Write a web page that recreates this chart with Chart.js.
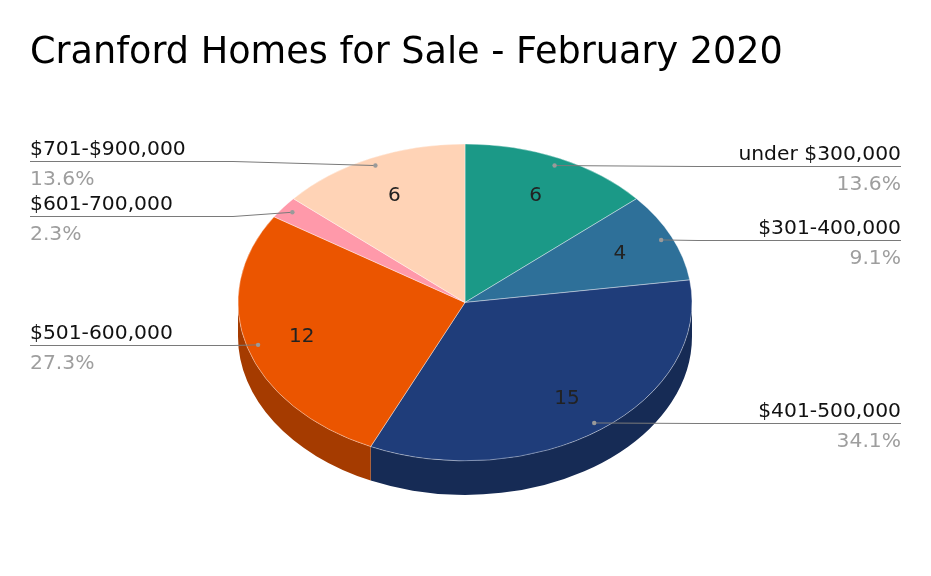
<!DOCTYPE html>
<html><head><meta charset="utf-8">
<script src="https://cdn.jsdelivr.net/npm/chart.js@4.4.1/dist/chart.umd.min.js"></script>
<style>html,body{margin:0;padding:0;background:#fff}#wrap{width:931px;height:576px;position:relative}</style>
</head><body><div id="wrap"><canvas id="c"></canvas></div>
<script>
const chartTitle = 'Cranford Homes for Sale - February 2020';
const categories = ['under $300,000', '$301-400,000', '$401-500,000', '$501-600,000', '$601-700,000', '$701-$900,000'];
const homeCounts = [6, 4, 15, 12, 1, 6];
const sliceColors = ['#1b9987', '#2e7099', '#1f3d7a', '#eb5500', '#ff99aa', '#ffd3b6'];

const FONT = "'DejaVu Sans', Verdana, sans-serif";
const TILT = 0.698;      // vertical squash of the pie
const DEPTH = 34;        // wall height in px
const PIE_RADIUS = 227;

function shade(hex, f) {
  const n = parseInt(hex.slice(1), 16);
  const r = Math.round(((n >> 16) & 255) * f), g = Math.round(((n >> 8) & 255) * f), b = Math.round((n & 255) * f);
  return `rgb(${r},${g},${b})`;
}

const pie3d = {
  id: 'pie3d',
  beforeDatasetsDraw(chart) {
    const ctx = chart.ctx;
    const meta = chart.getDatasetMeta(0);
    const a0 = meta.data[0];
    const cx = a0.x, cy = a0.y, r = a0.outerRadius;
    ctx.save();
    ctx.translate(0, cy); ctx.scale(1, TILT); ctx.translate(0, -cy);
    meta.data.forEach((arc, i) => {
      const a = Math.max(arc.startAngle, 0), b = Math.min(arc.endAngle, Math.PI);
      if (a >= b) return;
      ctx.beginPath();
      ctx.arc(cx, cy, r, a, b);
      ctx.arc(cx, cy + DEPTH / TILT, r, b, a, true);
      ctx.closePath();
      ctx.fillStyle = shade(sliceColors[i], 0.7);
      ctx.fill();
    });
  },
  afterDatasetsDraw(chart) {
    const ctx = chart.ctx;
    ctx.restore();
    const meta = chart.getDatasetMeta(0);
    const a0 = meta.data[0];
    const cx = a0.x, cy = a0.y, r = a0.outerRadius;
    const total = homeCounts.reduce((s, v) => s + v, 0);
    const pt = (ang, f) => ({ x: cx + f * r * Math.cos(ang), y: cy + f * r * TILT * Math.sin(ang) });
    const items = [];
    meta.data.forEach((arc, i) => {
      const mid = (arc.startAngle + arc.endAngle) / 2;
      const v = homeCounts[i];
      if (v / total >= 0.05) {
        const p = pt(mid, 0.75);
        ctx.font = `20px ${FONT}`;
        ctx.fillStyle = '#222';
        ctx.textAlign = 'center'; ctx.textBaseline = 'middle';
        ctx.fillText(String(v), p.x, p.y + 1);
      }
      const d = pt(mid, 0.95);
      items.push({ i, d, side: Math.cos(mid) >= 0 ? 'right' : 'left', y: d.y });
    });
    // spread labels per side
    ['left', 'right'].forEach(side => {
      const list = items.filter(o => o.side === side).sort((a, b) => a.y - b.y);
      for (let it = 0; it < 20; it++) {
        for (let k = 1; k < list.length; k++) {
          const gap = list[k].y - list[k - 1].y;
          if (gap < 55) { const push = (55 - gap) / 2; list[k].y += push; list[k - 1].y -= push; }
        }
      }
    });
    const leftX = 30, rightX = 901, knee = 203;
    items.forEach(o => {
      ctx.strokeStyle = '#7a7a7a'; ctx.lineWidth = 1;
      ctx.beginPath();
      const ly = Math.round(o.y) + 0.5;
      if (o.side === 'left') {
        ctx.moveTo(leftX, ly); ctx.lineTo(leftX + knee, ly); ctx.lineTo(o.d.x, o.d.y);
      } else {
        ctx.moveTo(rightX, ly); ctx.lineTo(rightX - knee, ly); ctx.lineTo(o.d.x, o.d.y);
      }
      ctx.stroke();
      ctx.fillStyle = '#9a9a9a';
      ctx.beginPath(); ctx.arc(o.d.x, o.d.y, 2.2, 0, Math.PI * 2); ctx.fill();
      const tx = o.side === 'left' ? leftX : rightX;
      ctx.textAlign = o.side === 'left' ? 'left' : 'right';
      ctx.textBaseline = 'alphabetic';
      ctx.font = `20.3px ${FONT}`;
      ctx.fillStyle = '#111';
      ctx.fillText(categories[o.i], tx, ly - 7);
      ctx.fillStyle = '#9e9e9e';
      ctx.fillText((homeCounts[o.i] / total * 100).toFixed(1) + '%', tx, ly + 23);
    });
  }
};

new Chart(document.getElementById('c'), {
  type: 'pie',
  data: {
    labels: categories,
    datasets: [{
      data: homeCounts,
      backgroundColor: sliceColors,
      borderColor: 'rgba(255,255,255,0.45)',
      borderWidth: 1,
      radius: PIE_RADIUS,
      clip: false
    }]
  },
  options: {
    responsive: true,
    maintainAspectRatio: false,
    animation: false,
    events: [],
    layout: { padding: { left: 30, right: 31, top: 0, bottom: 57 } },
    plugins: {
      legend: { display: false },
      tooltip: { enabled: false },
      title: {
        display: true, text: chartTitle, align: 'start', color: '#000',
        font: { family: FONT, size: 36.6, weight: 'normal' },
        padding: { top: 32, bottom: 10 }
      }
    }
  },
  plugins: [pie3d]
});
</script></body></html>
